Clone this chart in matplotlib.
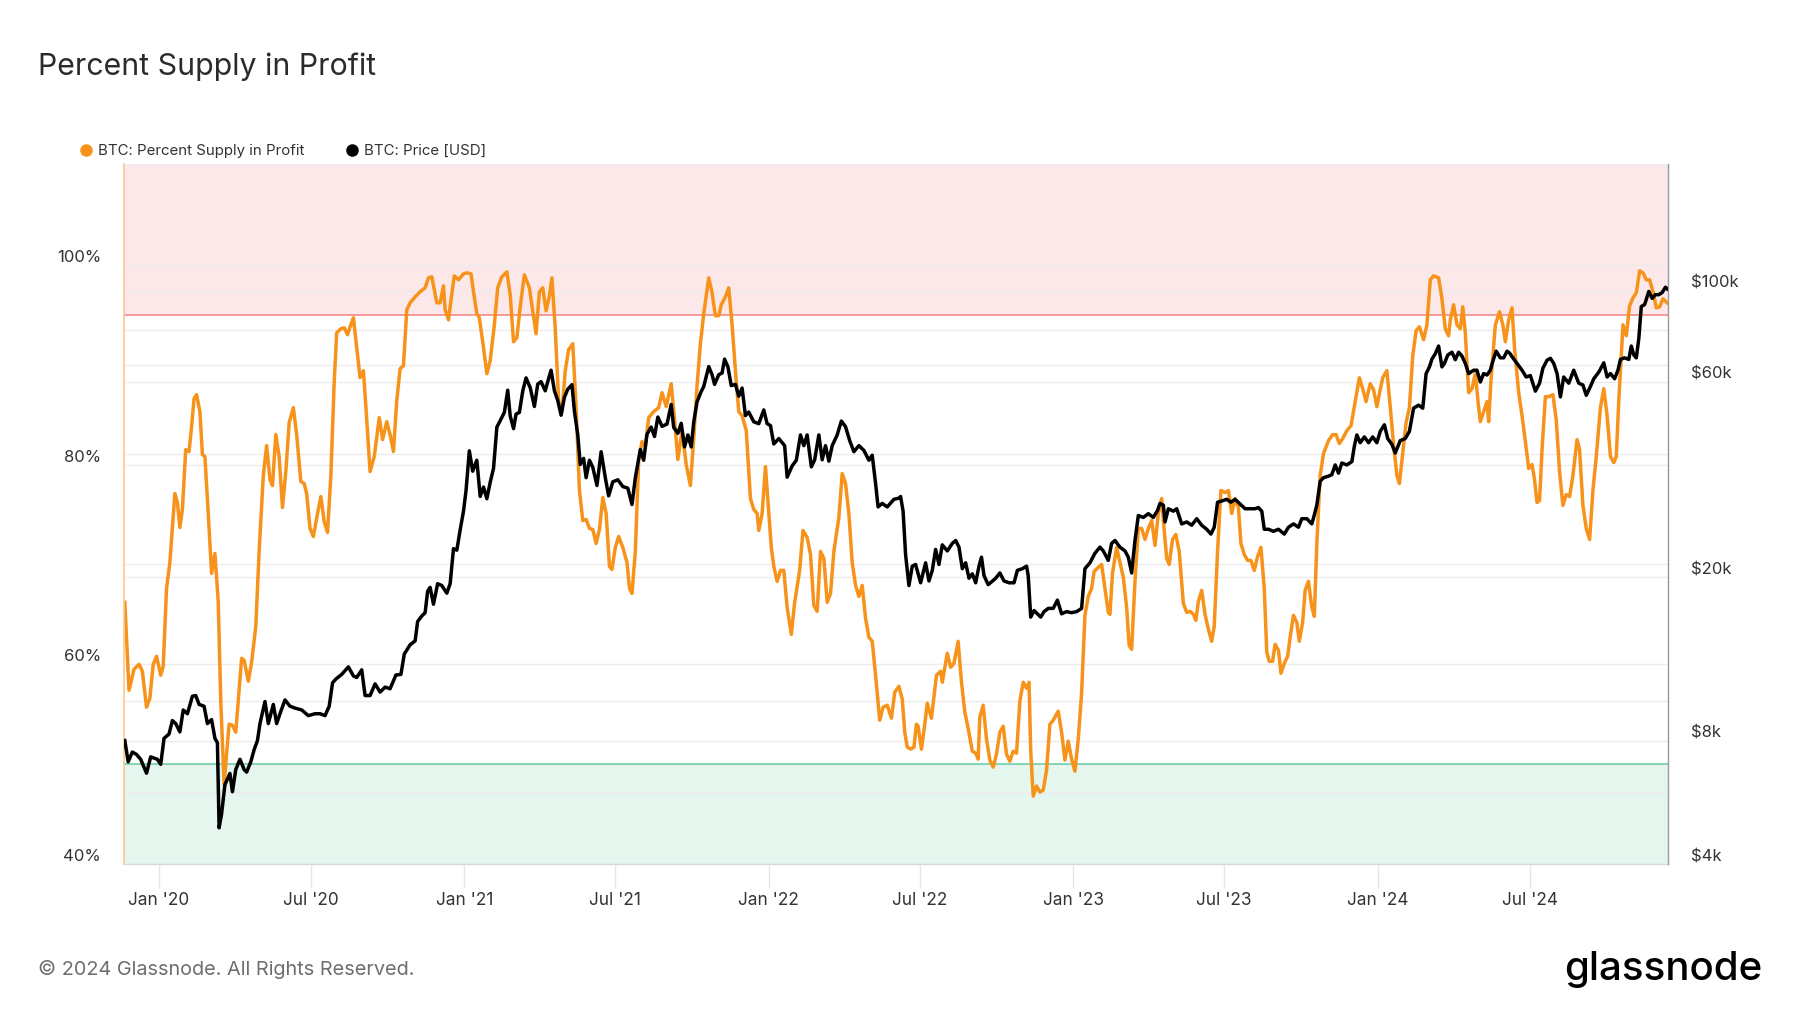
import numpy as np
import matplotlib
matplotlib.use('Agg')
import matplotlib.pyplot as plt
import matplotlib.dates as mdates
from matplotlib.lines import Line2D
from matplotlib.ticker import FixedLocator, FuncFormatter, NullFormatter
from matplotlib.transforms import ScaledTranslation, blended_transform_factory

plt.rcParams['font.family'] = ['Inter', 'DejaVu Sans']

# days since 2020-01-01
pct_days = [-41, -36, -30, -24, -20, -15, -11, -7, -3, 2, 5, 9, 13, 19, 22, 25, 28, 32, 36, 39,
            42, 45, 49, 52, 55, 59, 63, 67, 71, 74, 78, 84, 88, 92, 99, 102, 107, 111, 116, 120,
            125, 129, 133, 136, 140, 144, 148, 152, 156, 161, 165, 170, 174, 177, 181, 185, 190, 194, 198, 202,
            206, 210, 213, 218, 222, 226, 229, 233, 238, 241, 245, 249, 253, 258, 264, 268, 273, 277, 281, 285,
            289, 293, 297, 301, 307, 313, 319, 323, 327, 333, 337, 341, 343, 347, 351, 354, 359, 365, 369, 374,
            377, 381, 384, 389, 393, 397, 402, 406, 411, 417, 421, 425, 429, 433, 438, 444, 448, 452, 456, 460,
            464, 468, 471, 475, 479, 483, 487, 491, 496, 500, 504, 508, 512, 516, 520, 524, 528, 532, 536, 540,
            543, 547, 551, 556, 561, 564, 567, 571, 575, 579, 583, 587, 593, 599, 603, 608, 614, 618, 622, 627,
            632, 637, 641, 645, 649, 653, 659, 663, 667, 671, 674, 679, 683, 687, 691, 695, 699, 704, 709, 713,
            717, 719, 723, 727, 731, 734, 737, 741, 745, 749, 753, 758, 762, 768, 772, 777, 781, 785, 789, 793,
            797, 801, 805, 809, 815, 819, 823, 827, 831, 835, 839, 843, 847, 851, 855, 859, 864, 868, 873, 878,
            882, 887, 891, 894, 897, 901, 905, 908, 910, 914, 918, 921, 926, 932, 937, 939, 945, 949, 953, 958,
            962, 966, 970, 975, 979, 982, 984, 988, 992, 996, 1000, 1004, 1008, 1012, 1016, 1020, 1024, 1028, 1032, 1036,
            1040, 1043, 1045, 1048, 1052, 1056, 1060, 1064, 1068, 1072, 1078, 1082, 1086, 1090, 1094, 1098, 1102, 1106, 1110, 1114,
            1118, 1121, 1126, 1130, 1134, 1138, 1140, 1143, 1148, 1152, 1156, 1160, 1163, 1166, 1170, 1174, 1178, 1182, 1186, 1190,
            1194, 1198, 1202, 1204, 1208, 1211, 1215, 1219, 1223, 1228, 1232, 1236, 1240, 1243, 1246, 1250, 1254, 1258, 1262, 1265,
            1269, 1273, 1278, 1282, 1286, 1290, 1294, 1297, 1301, 1305, 1309, 1313, 1317, 1321, 1325, 1328, 1331, 1335, 1338, 1342,
            1345, 1349, 1353, 1356, 1360, 1364, 1367, 1371, 1374, 1378, 1382, 1385, 1388, 1392, 1396, 1402, 1407, 1411, 1415, 1419,
            1424, 1429, 1435, 1439, 1443, 1447, 1452, 1456, 1460, 1464, 1467, 1472, 1476, 1480, 1484, 1487, 1491, 1495, 1499, 1503,
            1507, 1511, 1516, 1520, 1524, 1528, 1534, 1538, 1542, 1546, 1548, 1552, 1556, 1560, 1563, 1566, 1570, 1574, 1578, 1582,
            1584, 1588, 1592, 1594, 1597, 1602, 1607, 1611, 1614, 1618, 1622, 1625, 1630, 1634, 1638, 1642, 1646, 1649, 1652, 1655,
            1658, 1662, 1666, 1671, 1675, 1679, 1683, 1687, 1691, 1695, 1700, 1703, 1707, 1711, 1715, 1719, 1723, 1728, 1732, 1736,
            1740, 1744, 1747, 1750, 1755, 1759, 1763, 1767, 1771, 1775, 1779, 1783, 1787, 1791, 1795, 1799, 1803, 1808]
pct_profit = [66.2, 57.4, 59.5, 60.0, 59.3, 55.7, 56.6, 60.0, 60.8, 58.9, 59.8, 67.6, 70.2, 77.1, 76.2, 73.7, 75.5, 81.5, 81.3, 83.8,
              86.6, 87.0, 85.3, 81.0, 80.8, 75.1, 69.1, 71.1, 66.2, 56.3, 48.0, 54.0, 53.9, 53.2, 60.6, 60.4, 58.3, 60.2, 63.8, 71.3,
              78.9, 81.9, 78.5, 77.9, 83.0, 80.8, 75.7, 79.3, 84.2, 85.7, 83.0, 78.3, 78.1, 77.1, 73.6, 72.8, 75.1, 76.8, 74.3, 73.2,
              78.9, 88.3, 93.2, 93.6, 93.7, 93.0, 93.8, 94.7, 90.9, 88.7, 89.4, 84.5, 79.3, 80.8, 84.7, 82.5, 84.3, 83.0, 81.3, 86.4,
              89.6, 89.9, 95.5, 96.2, 96.8, 97.3, 97.7, 98.7, 98.8, 96.2, 96.2, 97.9, 95.5, 94.5, 97.1, 98.9, 98.5, 99.1, 99.2, 99.1,
              97.3, 95.1, 94.7, 91.7, 89.1, 90.4, 94.0, 97.7, 98.8, 99.3, 97.0, 92.3, 92.7, 95.8, 99.0, 97.7, 95.4, 93.1, 97.3, 97.7,
              95.4, 96.9, 98.7, 93.6, 86.4, 85.3, 89.4, 91.5, 92.1, 85.7, 77.4, 74.4, 74.5, 73.6, 73.5, 72.1, 73.5, 76.7, 75.1, 69.8,
              69.5, 71.7, 72.8, 71.7, 70.2, 67.6, 67.1, 71.3, 80.4, 82.3, 81.8, 84.7, 85.3, 85.7, 87.2, 85.8, 88.1, 84.5, 80.5, 83.4,
              80.0, 77.9, 82.6, 87.9, 92.1, 95.1, 98.7, 97.2, 94.9, 94.9, 96.0, 96.8, 97.7, 94.0, 89.4, 85.3, 84.9, 83.4, 76.6, 75.5,
              75.1, 73.4, 75.1, 79.8, 75.1, 71.7, 69.8, 68.3, 69.4, 69.4, 65.7, 63.0, 66.2, 69.4, 73.4, 72.7, 71.0, 65.9, 65.3, 71.3,
              70.6, 66.2, 67.1, 71.3, 74.7, 79.1, 78.1, 75.1, 70.2, 67.9, 66.8, 67.9, 64.6, 62.7, 62.3, 58.9, 54.4, 55.7, 55.9, 54.6,
              57.2, 57.8, 56.5, 53.2, 51.7, 51.5, 51.7, 54.0, 53.8, 51.5, 54.0, 56.1, 54.6, 58.9, 59.3, 58.2, 61.1, 59.7, 60.1, 62.3,
              58.2, 55.2, 53.6, 51.3, 51.1, 50.5, 54.7, 55.9, 52.5, 50.4, 49.7, 51.0, 53.2, 53.8, 51.0, 50.3, 51.3, 51.1, 56.3, 58.2,
              57.6, 58.2, 51.3, 46.8, 47.8, 47.2, 47.4, 49.4, 54.0, 54.4, 55.3, 53.2, 50.4, 52.3, 50.5, 49.3, 52.5, 57.1, 64.9, 66.8,
              67.6, 69.3, 69.7, 70.0, 67.6, 65.2, 65.0, 69.1, 71.7, 70.2, 68.7, 65.7, 61.9, 61.5, 68.3, 73.6, 73.6, 72.5, 73.6, 74.4,
              71.9, 75.1, 76.6, 74.4, 70.6, 70.0, 72.5, 73.0, 71.3, 66.1, 65.2, 65.3, 65.0, 64.4, 66.3, 67.4, 65.0, 63.5, 62.3, 63.8,
              71.3, 77.4, 77.2, 77.4, 75.1, 76.6, 75.7, 72.1, 71.0, 70.4, 70.4, 69.4, 70.8, 71.7, 67.6, 61.2, 60.3, 60.3, 62.0, 61.4,
              59.1, 60.1, 60.8, 62.7, 64.9, 64.2, 62.3, 64.2, 67.4, 68.3, 65.7, 64.8, 72.1, 78.9, 81.1, 82.4, 83.0, 83.0, 82.1, 82.6,
              83.4, 83.9, 86.8, 88.7, 87.6, 86.3, 88.1, 87.5, 85.8, 87.5, 88.7, 89.4, 85.8, 82.0, 78.9, 78.1, 81.2, 84.2, 85.7, 90.9,
              93.4, 93.8, 92.5, 94.0, 98.5, 98.9, 98.7, 96.6, 93.6, 92.9, 94.5, 96.0, 94.0, 93.6, 95.8, 93.2, 87.2, 87.6, 89.1, 85.7,
              84.3, 85.3, 86.3, 84.3, 88.7, 94.0, 95.3, 94.0, 92.3, 94.5, 95.7, 91.7, 87.2, 84.9, 82.3, 79.6, 80.0, 78.5, 76.2, 76.4,
              81.5, 86.8, 86.8, 87.0, 84.5, 79.3, 75.9, 77.0, 76.8, 78.9, 82.5, 81.5, 75.9, 73.6, 72.5, 77.4, 80.8, 85.7, 87.6, 84.9,
              80.8, 80.2, 80.8, 86.4, 94.0, 92.9, 95.9, 96.7, 97.2, 99.4, 99.2, 98.5, 98.5, 97.3, 95.7, 95.8, 96.6, 96.2]

price_days = [-41, -37, -32, -27, -22, -15, -10, -2, 2, 6, 12, 16, 20, 25, 29, 34, 40, 44, 48, 54,
              58, 63, 67, 70, 72, 75, 79, 85, 88, 92, 97, 102, 105, 110, 114, 118, 121, 127, 131, 137,
              141, 145, 151, 157, 163, 171, 179, 187, 193, 199, 204, 208, 212, 219, 227, 233, 237, 243, 247, 253,
              259, 265, 271, 277, 284, 290, 294, 301, 307, 310, 315, 319, 322, 325, 329, 334, 339, 345, 349, 353,
              357, 361, 365, 368, 372, 376, 381, 385, 389, 393, 397, 401, 405, 409, 414, 418, 421, 425, 428, 432,
              436, 440, 445, 450, 454, 458, 463, 466, 470, 474, 478, 482, 486, 490, 495, 498, 502, 505, 509, 512,
              516, 520, 525, 530, 535, 539, 544, 550, 556, 562, 567, 571, 577, 581, 585, 590, 594, 598, 603, 609,
              614, 617, 622, 626, 630, 634, 638, 641, 645, 650, 653, 659, 663, 666, 671, 675, 678, 682, 686, 691,
              695, 699, 703, 707, 713, 719, 725, 729, 733, 737, 743, 750, 753, 759, 764, 769, 773, 777, 782, 786,
              791, 795, 799, 803, 807, 813, 818, 823, 828, 833, 839, 845, 851, 855, 859, 862, 867, 873, 881, 887,
              889, 892, 895, 899, 903, 907, 913, 919, 923, 927, 931, 935, 939, 945, 951, 955, 959, 963, 967, 971,
              975, 979, 983, 986, 989, 994, 998, 1003, 1008, 1013, 1019, 1025, 1029, 1035, 1040, 1042, 1045, 1049, 1053, 1057,
              1061, 1066, 1072, 1077, 1082, 1088, 1094, 1100, 1106, 1110, 1116, 1122, 1128, 1132, 1138, 1142, 1146, 1152, 1158, 1162,
              1166, 1170, 1174, 1180, 1186, 1192, 1197, 1200, 1204, 1206, 1210, 1216, 1220, 1226, 1232, 1238, 1244, 1250, 1256, 1261,
              1265, 1269, 1274, 1280, 1285, 1290, 1296, 1302, 1308, 1314, 1318, 1322, 1325, 1330, 1336, 1342, 1349, 1354, 1360, 1366,
              1370, 1376, 1382, 1385, 1388, 1392, 1396, 1402, 1406, 1410, 1414, 1418, 1424, 1430, 1433, 1436, 1440, 1445, 1450, 1455,
              1460, 1464, 1469, 1473, 1478, 1482, 1488, 1494, 1499, 1504, 1510, 1515, 1519, 1523, 1526, 1530, 1534, 1538, 1541, 1545,
              1550, 1554, 1558, 1562, 1566, 1570, 1576, 1580, 1584, 1588, 1592, 1596, 1599, 1603, 1608, 1612, 1616, 1619, 1623, 1628,
              1634, 1639, 1644, 1650, 1655, 1659, 1664, 1668, 1672, 1676, 1680, 1684, 1690, 1696, 1702, 1707, 1711, 1716, 1720, 1726,
              1732, 1736, 1740, 1745, 1749, 1752, 1757, 1762, 1765, 1768, 1771, 1774, 1777, 1781, 1786, 1790, 1794, 1798, 1802, 1806,
              1808]
# BTC price, thousands of USD
price_k = [8.0, 7.1, 7.5, 7.4, 7.2, 6.66, 7.3, 7.2, 7.0, 8.1, 8.3, 8.95, 8.8, 8.4, 9.5, 9.3, 10.26, 10.3, 9.8, 9.7,
           8.8, 9.0, 8.1, 7.9, 4.9, 5.3, 6.25, 6.65, 6.0, 6.8, 7.2, 6.8, 6.7, 7.1, 7.6, 8.0, 8.8, 9.96, 8.8, 9.8,
           8.8, 9.3, 10.05, 9.7, 9.6, 9.5, 9.2, 9.3, 9.3, 9.2, 9.7, 11.06, 11.3, 11.6, 12.1, 11.5, 11.4, 11.9, 10.3, 10.3,
           11.0, 10.5, 10.8, 10.7, 11.56, 11.6, 13.0, 13.7, 14.0, 15.6, 16.1, 16.4, 18.5, 18.9, 17.2, 19.3, 19.1, 18.3, 19.3, 23.5,
           23.3, 26.1, 29.0, 32.5, 40.7, 36.3, 38.6, 31.5, 33.2, 31.1, 34.1, 36.9, 46.5, 48.2, 50.5, 57.2, 49.5, 46.1, 50.0, 50.5,
           56.9, 61.3, 58.0, 52.2, 59.2, 60.0, 57.0, 60.0, 64.0, 57.0, 54.0, 49.7, 55.0, 57.5, 59.0, 50.8, 44.5, 37.7, 39.0, 35.0,
           38.6, 37.1, 33.5, 40.5, 35.0, 31.6, 34.2, 34.6, 33.3, 33.0, 30.1, 35.0, 41.0, 38.6, 44.7, 46.5, 44.1, 49.2, 46.7, 47.3,
           52.8, 46.4, 44.9, 47.5, 41.6, 44.5, 41.6, 47.8, 53.6, 56.8, 58.4, 65.3, 62.4, 59.1, 62.4, 63.0, 68.1, 65.2, 58.7, 59.1,
           55.3, 57.9, 49.6, 50.6, 47.9, 47.4, 51.2, 47.4, 46.9, 42.3, 43.6, 41.9, 35.1, 37.4, 38.6, 44.5, 41.9, 44.5, 37.2, 38.7,
           44.5, 38.7, 41.9, 38.4, 41.9, 44.5, 48.1, 46.6, 43.1, 40.5, 41.9, 40.8, 38.6, 39.7, 33.9, 29.7, 30.3, 29.7, 31.0, 31.2,
           31.5, 29.0, 22.7, 19.1, 21.3, 21.5, 19.4, 21.7, 19.6, 20.8, 23.4, 21.5, 24.0, 23.2, 24.2, 24.6, 23.7, 21.0, 21.7, 19.9,
           20.4, 19.4, 21.3, 22.4, 20.2, 19.2, 19.5, 19.9, 20.5, 19.6, 19.4, 19.4, 20.8, 21.0, 21.3, 20.2, 16.0, 16.6, 16.3, 16.0,
           16.5, 16.8, 16.8, 17.6, 16.3, 16.5, 16.4, 16.5, 16.8, 21.0, 21.7, 22.9, 23.7, 23.2, 22.0, 24.2, 24.6, 23.7, 23.2, 22.4,
           20.5, 24.6, 28.3, 28.0, 28.6, 28.0, 29.1, 30.3, 30.0, 27.3, 29.4, 29.0, 29.4, 27.0, 27.3, 26.8, 27.8, 26.8, 26.2, 25.5,
           26.5, 30.5, 30.7, 31.0, 30.5, 31.0, 30.2, 29.4, 29.4, 29.4, 29.6, 29.0, 26.2, 26.2, 25.9, 26.2, 25.5, 26.5, 27.0, 26.5,
           27.8, 27.8, 27.0, 28.4, 30.0, 34.3, 35.0, 35.3, 35.6, 37.6, 35.9, 38.0, 37.6, 38.3, 41.8, 44.5, 42.6, 44.0, 42.6, 44.0,
           42.6, 45.4, 47.1, 43.6, 42.2, 40.2, 43.1, 43.6, 45.4, 51.7, 52.6, 51.7, 62.8, 65.2, 68.1, 70.2, 73.3, 65.2, 66.5, 69.7,
           70.8, 67.9, 70.8, 69.3, 66.5, 62.8, 64.0, 64.0, 59.9, 62.8, 62.3, 64.0, 67.3, 71.2, 68.6, 68.6, 71.2, 70.5, 68.6, 66.5,
           64.0, 61.6, 62.1, 56.9, 59.5, 64.7, 67.7, 68.4, 66.5, 62.8, 55.1, 61.6, 59.5, 64.0, 59.5, 58.9, 55.6, 58.4, 61.0, 63.3,
           66.7, 61.6, 62.8, 61.0, 64.0, 68.0, 68.6, 68.0, 73.3, 69.7, 68.6, 76.4, 91.5, 92.5, 99.6, 95.8, 97.8, 97.8, 99.0, 102.0,
           101.0]

pct_ticks = [40, 60, 80, 100]
pct_minor = [50, 70, 90, 110]
price_ticks = [4000, 8000, 20000, 60000, 100000]
price_grid = [4000, 6000, 8000, 10000, 20000, 40000, 60000, 80000, 100000]
upper_band = 95
lower_band = 50

base = np.datetime64('2020-01-01')
pct_dates = base + np.array(pct_days).astype('timedelta64[D]')
price_dates = base + np.array(price_days).astype('timedelta64[D]')
price_usd = np.array(price_k) * 1000

fig = plt.figure(figsize=(18, 10.13), dpi=100)
ax = fig.add_axes([124 / 1800, 1 - 864 / 1013, 1544 / 1800, 700 / 1013])
ax2 = ax.twinx()

# zones
ax.axhspan(upper_band, 120, color='#fde8e9', lw=0, zorder=0)
ax.axhspan(0, lower_band, color='#e5f6ee', lw=0, zorder=0)
ax.axhline(upper_band, color='#f48a8a', lw=1.2, zorder=0.8)
ax.axhline(lower_band, color='#6fd1a6', lw=1.2, zorder=0.8)

ax.plot(pct_dates, pct_profit, color='#f7931a', lw=2.5, zorder=2, solid_joinstyle='round')
ax2.plot(price_dates, price_usd, color='black', lw=2.5, zorder=3, solid_joinstyle='round')

ax.set_xlim(np.datetime64('2019-11-20'), np.datetime64('2024-12-14'))
ax.set_ylim(40, 110.1)
ax2.set_yscale('log')
ax2.set_ylim(4000, 203700)

# left axis
ax.yaxis.set_major_locator(FixedLocator(pct_ticks))
ax.yaxis.set_minor_locator(FixedLocator(pct_minor))
ax.yaxis.set_major_formatter(FuncFormatter(lambda v, p: f'{v:.0f}%'))
ax.yaxis.set_minor_formatter(NullFormatter())
ax.set_axisbelow(True)
ax.grid(True, axis='y', which='both', color='#ececec', lw=1.0, zorder=0.5)
ax.tick_params(axis='y', which='both', length=0, pad=16.5, labelsize=12, labelcolor='#333333')

# right axis grid drawn on the lower axes so the lines stay under the series
tr = blended_transform_factory(ax.transAxes, ax2.transData)
ax.hlines(price_grid, 0, 1, transform=tr, color='#ececec', lw=1.0, zorder=0.6)
ax2.yaxis.set_major_locator(FixedLocator(price_ticks))
ax2.yaxis.set_minor_locator(FixedLocator([]))
ax2.yaxis.set_major_formatter(FuncFormatter(lambda v, p: f'${v / 1000:.0f}k'))
ax2.yaxis.set_minor_formatter(NullFormatter())
ax2.tick_params(axis='y', which='both', length=0, pad=16.5, labelsize=12, labelcolor='#333333')

# x axis
ax.xaxis.set_major_locator(mdates.MonthLocator(bymonth=[1, 7]))
ax.xaxis.set_major_formatter(mdates.DateFormatter("%b '%y"))
ax.tick_params(axis='x', length=17, width=1, color='#e6e6e6', pad=3, labelsize=12.4, labelcolor='#333333')

for a in (ax, ax2):
    a.spines['top'].set_visible(False)
ax.spines['right'].set_visible(False)
ax.spines['left'].set_color('#fcc88c')
ax.spines['left'].set_linewidth(1.2)
ax.spines['bottom'].set_color('#d3dbe0')
ax.spines['bottom'].set_linewidth(1.0)
ax2.spines['left'].set_visible(False)
ax2.spines['bottom'].set_visible(False)
ax2.spines['right'].set_color('#9a9a9a')
ax2.spines['right'].set_linewidth(1.0)

# Highcharts style: y labels sit a little above their grid line
shift = ScaledTranslation(0, 9 / 100, fig.dpi_scale_trans)
for lab in ax.get_yticklabels() + ax2.get_yticklabels():
    lab.set_transform(lab.get_transform() + shift)

handles = [Line2D([], [], marker='o', ls='none', color='#f7931a', markersize=8),
           Line2D([], [], marker='o', ls='none', color='black', markersize=8)]
fig.legend(handles, ['BTC: Percent Supply in Profit', 'BTC: Price [USD]'],
           loc='center left', bbox_to_anchor=(81 / 1800, 1 - 151 / 1013), ncol=2, frameon=False,
           fontsize=10.8, handlelength=0.6, handletextpad=0.5, columnspacing=2.9,
           labelcolor='#333333', borderaxespad=0, borderpad=0)

fig.text(38 / 1800, 1 - 67 / 1013, 'Percent Supply in Profit', fontsize=21.8, color='#2b2b2b', va='center')
fig.text(38 / 1800, 1 - 969 / 1013, '© 2024 Glassnode. All Rights Reserved.', fontsize=14.3,
         color='#6e6e6e', va='center')
fig.text(1762 / 1800, 1 - 970 / 1013, 'glassnode', fontsize=29, color='black', ha='right', va='center',
         weight='medium')

fig.savefig('out.png', dpi=100)
